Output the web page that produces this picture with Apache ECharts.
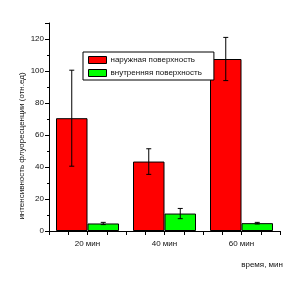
<!DOCTYPE html>
<html><head><meta charset="utf-8">
<script src="https://cdn.jsdelivr.net/npm/echarts@6/dist/echarts.min.js"></script>
<style>html,body{margin:0;padding:0;background:#fff}#c{width:299px;height:292px}</style>
</head><body><div id="c"></div>
<script>
var categories = ['20 мин', '40 мин', '60 мин'];
var outerValues = [70.5, 43.4, 107.5];
var outerErrors = [30, 8, 13.5];
var innerValues = [4.7, 10.9, 4.9];
var innerErrors = [0.7, 3.2, 0.5];
var seriesNames = ['наружная поверхность', 'внутренняя поверхность'];
var yTitle = 'интенсивность флуоресценции (отн.ед)';
var xTitle = 'время, мин';

var BAR_W = 31.5;
var FONT = 'Liberation Sans, Arial, sans-serif';

function errorSeries(values, errors, side) {
  return {
    type: 'custom',
    xAxisIndex: 0,
    z: 5,
    silent: true,
    data: values.map(function (v, i) { return [i, v - errors[i], v + errors[i]]; }),
    renderItem: function (params, api) {
      var lo = api.coord([api.value(0), api.value(1)]);
      var hi = api.coord([api.value(0), api.value(2)]);
      var x = lo[0] + side * BAR_W / 2;
      var cap = 2.5;
      var st = { stroke: '#000', lineWidth: 1 };
      return {
        type: 'group',
        children: [
          { type: 'line', shape: { x1: x, y1: lo[1], x2: x, y2: hi[1] }, style: st },
          { type: 'line', shape: { x1: x - cap, y1: hi[1], x2: x + cap, y2: hi[1] }, style: st },
          { type: 'line', shape: { x1: x - cap, y1: lo[1], x2: x + cap, y2: lo[1] }, style: st }
        ]
      };
    }
  };
}

var chart = echarts.init(document.getElementById('c'), null, { renderer: 'canvas' });
chart.setOption({
  animation: false,
  backgroundColor: '#fff',
  textStyle: { fontFamily: FONT },
  grid: { left: 49, right: 19, top: 23, bottom: 61, containLabel: false },
  legend: {
    orient: 'vertical',
    left: 83, top: 52,
    padding: [4, 12, 3, 5],
    itemWidth: 18, itemHeight: 7, itemGap: 5,
    icon: 'rect',
    backgroundColor: '#fff',
    borderColor: '#000', borderWidth: 1,
    textStyle: { fontSize: 8, color: '#111', fontFamily: FONT, padding: [0, 0, 0, -1] },
    data: seriesNames.map(function (n) { return { name: n, icon: 'rect', itemStyle: { borderColor: '#000', borderWidth: 1 } }; })
  },
  xAxis: [
    {
      type: 'category',
      data: categories,
      boundaryGap: true,
      axisLine: { show: false },
      axisTick: { show: false },
      axisLabel: { fontSize: 8, color: '#111', margin: 9, fontFamily: FONT },
      splitLine: { show: false }
    },
    {
      type: 'value',
      position: 'bottom',
      min: 10, max: 70, interval: 10,
      axisLine: { show: true, lineStyle: { color: '#000', width: 1 } },
      axisTick: { show: true, inside: false, length: 4, lineStyle: { color: '#000' } },
      minorTick: { show: true, splitNumber: 2, length: 4, lineStyle: { color: '#000' } },
      axisLabel: { show: false },
      splitLine: { show: false }
    }
  ],
  yAxis: {
    type: 'value',
    min: 0, max: 130, interval: 20,
    axisLine: { show: true, lineStyle: { color: '#000', width: 1 } },
    axisTick: { show: true, inside: false, length: 4, lineStyle: { color: '#000' } },
    minorTick: { show: true, splitNumber: 2, length: 2, lineStyle: { color: '#000' } },
    axisLabel: { fontSize: 8, color: '#111', margin: 5, fontFamily: FONT, showMaxLabel: false },
    splitLine: { show: false }
  },
  series: [
    {
      name: seriesNames[0], type: 'bar', xAxisIndex: 0,
      data: outerValues, barWidth: BAR_W, barGap: '0%',
      itemStyle: { color: '#ff0000', borderColor: '#000', borderWidth: 1 }
    },
    {
      name: seriesNames[1], type: 'bar', xAxisIndex: 0,
      data: innerValues, barWidth: BAR_W, barGap: '0%',
      itemStyle: { color: '#00ff00', borderColor: '#000', borderWidth: 1 }
    },
    errorSeries(outerValues, outerErrors, -1),
    errorSeries(innerValues, innerErrors, 1)
  ],
  graphic: [
    {
      type: 'text', x: 22, y: 146, rotation: Math.PI / 2,
      style: { text: yTitle, fontSize: 8, fill: '#111', fontFamily: FONT, align: 'center', verticalAlign: 'middle' }
    },
    {
      type: 'text', x: 283, y: 265,
      style: { text: xTitle, fontSize: 8, fill: '#111', fontFamily: FONT, align: 'right', verticalAlign: 'middle' }
    }
  ]
});
</script></body></html>
